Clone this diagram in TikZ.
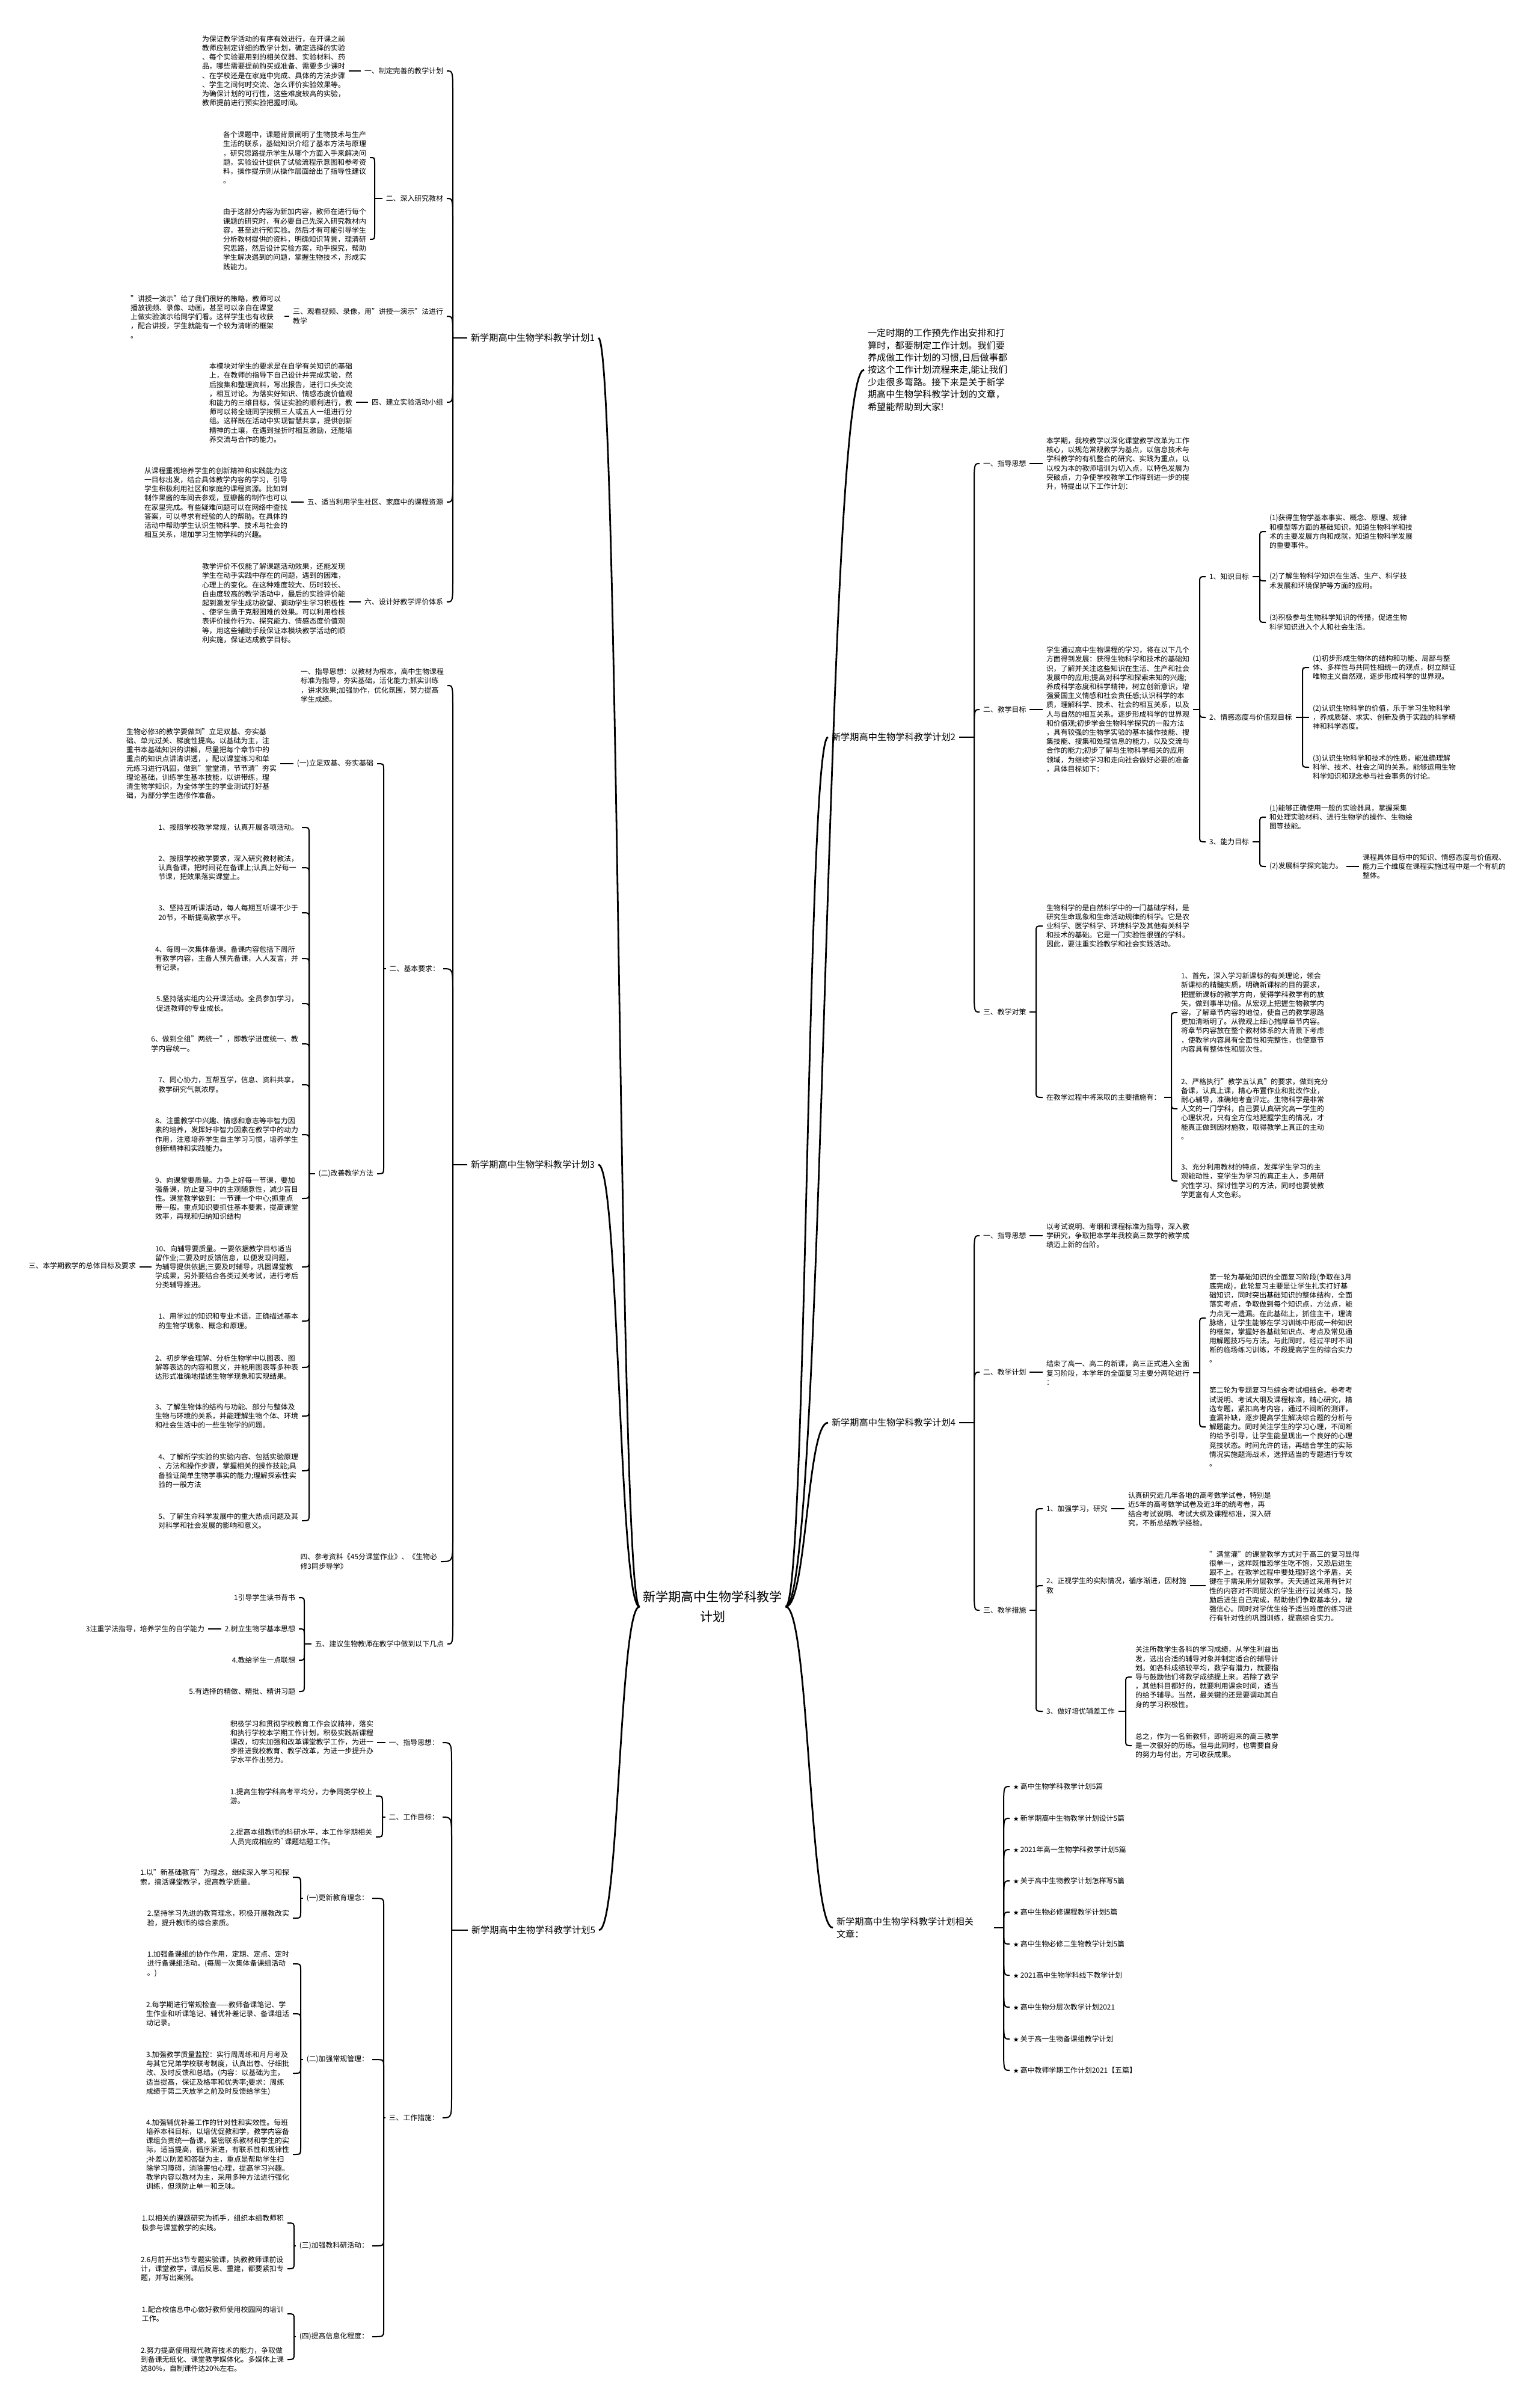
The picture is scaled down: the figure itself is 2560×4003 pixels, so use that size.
\documentclass[tikz,border=0pt]{standalone}
\usepackage{fontspec}
\setmainfont{Noto Sans CJK SC}
\usetikzlibrary{calc}
\tikzset{
 every node/.style={inner sep=3pt, outer sep=0pt},
 ts/.style={font=\fontsize{5.95pt}{7.6pt}\selectfont, align=left},
 tm/.style={font=\fontsize{7.6pt}{10.2pt}\selectfont, align=left},
 troot/.style={font=\fontsize{10.5pt}{16.5pt}\selectfont, align=center},
 conn/.style={line width=1pt},
 mconn/.style={line width=1.4pt},
}
\newcommand\hk[3][5pt]{\draw[conn] let \p1=(#2), \p2=(#3), \n1={min(abs(\y1-\y2),#1)}, \n2={(\y1>\y2)?1:-1} in (\p1) -- (\x1,{\y2+\n2*\n1*1pt}) .. controls (\x1,\y2) .. (\p2);}
\newcommand\mc[2]{\draw[mconn] let \p1=(#1), \p2=(#2) in (\p1) .. controls ({0.5*\x1+0.5*\x2},\y1) and ({0.5*\x1+0.5*\x2},\y2) .. (\p2);}
\newcommand\sconn[2]{\draw[conn] (#1) -- (#2 |- #1);}
\newcommand\stR{{\fontsize{4.6pt}{5pt}\selectfont ★}\ }
\begin{document}
\begin{tikzpicture}[x=0.5pt,y=-0.5pt]
\fill[white] (0,0) rectangle (2560,4003);
\useasboundingbox (0,0) rectangle (2560,4003);

\node[troot] (root) at (1185,2672) {新学期高中生物学科教学\\计划};

% ===== plan 1 =====
\node[tm, anchor=west] (p1) at (777,562) {新学期高中生物学科教学计划1};
\coordinate (p1b) at (753,562);
\node[ts, anchor=east] (a1) at (743,118) {一、制定完善的教学计划};
\node[ts, anchor=east] (l1) at (580,118) {为保证教学活动的有序有效进行，在开课之前\\教师应制定详细的教学计划，确定选择的实验\\、每个实验要用到的相关仪器、实验材料、药\\品，哪些需要提前购买或准备、需要多少课时\\、在学校还是在家庭中完成、具体的方法步骤\\、学生之间何时交流、怎么评价实验效果等。\\为确保计划的可行性，这些难度较高的实验，\\教师提前进行预实验把握时间。};
\node[ts, anchor=east] (a2) at (743,330) {二、深入研究教材};
\coordinate (a2b) at (623,330);
\node[ts, anchor=east] (l2a) at (615,262) {各个课题中，课题背景阐明了生物技术与生产\\生活的联系，基础知识介绍了基本方法与原理\\，研究思路提示学生从哪个方面入手来解决问\\题，实验设计提供了试验流程示意图和参考资\\料，操作提示则从操作层面给出了指导性建议\\。};
\node[ts, anchor=east] (l2b) at (615,398) {由于这部分内容为新加内容，教师在进行每个\\课题的研究时，有必要自己先深入研究教材内\\容，甚至进行预实验。然后才有可能引导学生\\分析教材提供的资料，明确知识背景，理清研\\究思路，然后设计实验方案，动手探究，帮助\\学生解决遇到的问题，掌握生物技术，形成实\\践能力。};
\node[ts, anchor=east] (a3) at (743,526) {三、观看视频、录像，用"讲授一演示"法进行\\教学};
\node[ts, anchor=east] (l3) at (473,527) {"讲授一演示"给了我们很好的策略，教师可以\\播放视频、录像、动画，甚至可以亲自在课堂\\上做实验演示给同学们看。这样学生也有收获\\，配合讲授，学生就能有一个较为清晰的框架\\。};
\node[ts, anchor=east] (a4) at (743,669) {四、建立实验活动小组};
\node[ts, anchor=east] (l4) at (592,670) {本模块对学生的要求是在自学有关知识的基础\\上，在教师的指导下自己设计并完成实验，然\\后搜集和整理资料，写出报告，进行口头交流\\，相互讨论。为落实好知识、情感态度价值观\\和能力的三维目标，保证实验的顺利进行，教\\师可以将全班同学按照三人或五人一组进行分\\组。这样既在活动中实现智慧共享，提供创新\\精神的土壤，在遇到挫折时相互激励，还能培\\养交流与合作的能力。};
\node[ts, anchor=east] (a5) at (743,835) {五、适当利用学生社区、家庭中的课程资源};
\node[ts, anchor=east] (l5) at (484,836) {从课程重视培养学生的创新精神和实践能力这\\一目标出发，结合具体教学内容的学习，引导\\学生积极利用社区和家庭的课程资源。比如到\\制作果酱的车间去参观，豆瓣酱的制作也可以\\在家里完成。有些疑难问题可以在网络中查找\\答案，可以寻求有经验的人的帮助。在具体的\\活动中帮助学生认识生物科学、技术与社会的\\相互关系，增加学习生物学科的兴趣。};
\node[ts, anchor=east] (a6) at (743,1001) {六、设计好教学评价体系};
\node[ts, anchor=east] (l6) at (580,1003) {教学评价不仅能了解课题活动效果，还能发现\\学生在动手实践中存在的问题，遇到的困难，\\心理上的变化。在这种难度较大、历时较长、\\自由度较高的教学活动中，最后的实验评价能\\起到激发学生成功欲望、调动学生学习积极性\\、使学生勇于克服困难的效果。可以利用检核\\表评价操作行为、探究能力、情感态度价值观\\等，用这些辅助手段保证本模块教学活动的顺\\利实施，保证达成教学目标。};

% ===== plan 3 =====
\node[tm, anchor=west] (p3) at (777,1937) {新学期高中生物学科教学计划3};
\coordinate (p3b) at (753,1937);
\node[ts, anchor=east] (b1) at (744,1140) {一、指导思想：以教材为根本，高中生物课程\\标准为指导，夯实基础，活化能力;抓实训练\\，讲求效果;加强协作，优化氛围，努力提高\\学生成绩。};
\node[ts, anchor=east] (b2) at (737,1611) {二、基本要求：};
\coordinate (b2b) at (638,1611);
\node[ts, anchor=east] (c1) at (627,1270) {(一)立足双基、夯实基础};
\node[ts, anchor=east] (c1l) at (466,1270) {生物必修3的教学要做到"立足双基、夯实基\\础、单元过关、梯度性提高。以基础为主，注\\重书本基础知识的讲解，尽量把每个章节中的\\重点的知识点讲清讲透，，配以课堂练习和单\\元练习进行巩固，做到"堂堂清，节节清"夯实\\理论基础，训练学生基本技能，以讲带练，理\\清生物学知识，为全体学生的学业测试打好基\\础，为部分学生选修作准备。};
\node[ts, anchor=east] (c2) at (627,1952) {(二)改善教学方法};
\coordinate (c2b) at (514,1952);
\node[ts, anchor=east] (i1) at (502,1376) {1、按照学校教学常规，认真开展各项活动。};
\node[ts, anchor=east] (i2) at (502,1443) {2、按照学校教学要求，深入研究教材教法，\\认真备课，把时间花在备课上;认真上好每一\\节课，把效果落实课堂上。};
\node[ts, anchor=east] (i3) at (502,1518) {3、坚持互听课活动，每人每期互听课不少于\\20节，不断提高教学水平。};
\node[ts, anchor=east] (i4) at (502,1594) {4、每周一次集体备课。备课内容包括下周所\\有教学内容，主备人预先备课，人人发言，并\\有记录。};
\node[ts, anchor=east] (i5) at (502,1669) {5.坚持落实组内公开课活动。全员参加学习，\\促进教师的专业成长。};
\node[ts, anchor=east] (i6) at (502,1736) {6、做到全组"两统一"，即教学进度统一、教\\学内容统一。};
\node[ts, anchor=east] (i7) at (502,1804) {7、同心协力，互帮互学，信息、资料共享，\\教学研究气氛浓厚。};
\node[ts, anchor=east] (i8) at (502,1887) {8、注重教学中兴趣、情感和意志等非智力因\\素的培养，发挥好非智力因素在教学中的动力\\作用，注意培养学生自主学习习惯，培养学生\\创新精神和实践能力。};
\node[ts, anchor=east] (i9) at (502,1993) {9、向课堂要质量。力争上好每一节课，要加\\强备课，防止复习中的主观随意性，减少盲目\\性。课堂教学做到：一节课一个中心;抓重点\\带一般。重点知识要抓住基本要素，提高课堂\\效率，再现和归纳知识结构};
\node[ts, anchor=east] (i10) at (502,2107) {10、向辅导要质量。一要依据教学目标适当\\留作业;二要及时反馈信息，以便发现问题，\\为辅导提供依据;三要及时辅导，巩固课堂教\\学成果，另外要结合各类过关考试，进行考后\\分类辅导推进。};
\node[ts, anchor=east] (t3) at (232,2105) {三、本学期教学的总体目标及要求};
\node[ts, anchor=east] (i11) at (502,2197) {1、用学过的知识和专业术语，正确描述基本\\的生物学现象、概念和原理。};
\node[ts, anchor=east] (i12) at (502,2274) {2、初步学会理解、分析生物学中以图表、图\\解等表达的内容和意义，并能用图表等多种表\\达形式准确地描述生物学现象和实现结果。};
\node[ts, anchor=east] (i13) at (502,2355) {3、了解生物体的结构与功能、部分与整体及\\生物与环境的关系，并能理解生物个体、环境\\和社会生活中的一些生物学的问题。};
\node[ts, anchor=east] (i14) at (502,2446) {4、了解所学实验的实验内容、包括实验原理\\、方法和操作步骤，掌握相关的操作技能;具\\备验证简单生物学事实的能力;理解探索性实\\验的一般方法};
\node[ts, anchor=east] (i15) at (502,2529) {5、了解生命科学发展中的重大热点问题及其\\对科学和社会发展的影响和意义。};
\node[ts, anchor=east] (b4) at (733,2597) {四、参考资料《45分课堂作业》、《生物必\\修3同步导学》};
\node[ts, anchor=east] (b5) at (744,2734) {五、建议生物教师在教学中做到以下几点};
\coordinate (b5b) at (506,2734);
\node[ts, anchor=east] (j1) at (497,2657) {1引导学生读书背书};
\node[ts, anchor=east] (j2) at (497,2709) {2.树立生物学基本思想};
\node[ts, anchor=east] (j3) at (346,2709) {3注重学法指导，培养学生的自学能力};
\node[ts, anchor=east] (j4) at (497,2761) {4.教给学生一点联想};
\node[ts, anchor=east] (j5) at (497,2813) {5.有选择的精做、精批、精讲习题};

% ===== plan 5 =====
\node[tm, anchor=west] (p5) at (778,3210) {新学期高中生物学科教学计划5};
\coordinate (p5b) at (751,3210);
\node[ts, anchor=east] (d1) at (736,2898) {一、指导思想：};
\node[ts, anchor=east] (d1l) at (627,2897) {积极学习和贯彻学校教育工作会议精神，落实\\和执行学校本学期工作计划，积极实践新课程\\课改，切实加强和改革课堂教学工作，为进一\\步推进我校教育、教学改革，为进一步提升办\\学水平作出努力。};
\node[ts, anchor=east] (d2) at (736,3022) {二、工作目标：};
\coordinate (d2b) at (636,3022);
\node[ts, anchor=east] (e1) at (625,2987) {1.提高生物学科高考平均分，力争同类学校上\\游。};
\node[ts, anchor=east] (e2) at (625,3055) {2.提高本组教师的科研水平，本工作学期相关\\人员完成相应的\textasciigrave 课题结题工作。};
\node[ts, anchor=east] (d3) at (736,3522) {三、工作措施：};
\coordinate (d3b) at (638,3522);
\node[ts, anchor=east] (f1) at (619,3157) {(一)更新教育理念：};
\coordinate (f1b) at (500,3157);
\node[ts, anchor=east] (g1) at (487,3122) {1.以"新基础教育"为理念，继续深入学习和探\\索，搞活课堂教学，提高教学质量。};
\node[ts, anchor=east] (g2) at (487,3190) {2.坚持学习先进的教育理念，积极开展教改实\\验，提升教师的综合素质。};
\node[ts, anchor=east] (f2) at (619,3425) {(二)加强常规管理：};
\coordinate (f2b) at (500,3425);
\node[ts, anchor=east] (g3) at (487,3266) {1.加强备课组的协作作用，定期、定点、定时\\进行备课组活动。(每周一次集体备课组活动\\。)};
\node[ts, anchor=east] (g4) at (487,3349) {2.每学期进行常规检查——教师备课笔记、学\\生作业和听课笔记、辅优补差记录、备课组活\\动记录。};
\node[ts, anchor=east] (g5) at (487,3448) {3.加强教学质量监控：实行周周练和月月考及\\与其它兄弟学校联考制度，认真出卷、仔细批\\改、及时反馈和总结。(内容：以基础为主，\\适当提高，保证及格率和优秀率;要求：周练\\成绩于第二天放学之前及时反馈给学生)};
\node[ts, anchor=east] (g6) at (487,3583) {4.加强辅优补差工作的针对性和实效性。每班\\培养本科目标，以培优促教和学，教学内容备\\课组负责统一备课，紧密联系教材和学生的实\\际，适当提高，循序渐进，有联系性和规律性\\;补差以防差和答疑为主，重点是帮助学生扫\\除学习障碍，消除害怕心理，提高学习兴趣。\\教学内容以教材为主，采用多种方法进行强化\\训练，但须防止单一和乏味。};
\node[ts, anchor=east] (f3) at (619,3735) {(三)加强教科研活动：};
\coordinate (f3b) at (489,3735);
\node[ts, anchor=east] (g7) at (478,3697) {1.以相关的课题研究为抓手，组织本组教师积\\极参与课堂教学的实践。};
\node[ts, anchor=east] (g8) at (478,3773) {2.6月前开出3节专题实验课，执教教师课前设\\计，课堂教学，课后反思、重建，都要紧扣专\\题，并写出案例。};
\node[ts, anchor=east] (f4) at (619,3886) {(四)提高信息化程度：};
\coordinate (f4b) at (489,3886);
\node[ts, anchor=east] (g9) at (478,3848) {1.配合校信息中心做好教师使用校园网的培训\\工作。};
\node[ts, anchor=east] (g10) at (478,3924) {2.努力提高使用现代教育技术的能力，争取做\\到备课无纸化、课堂教学媒体化。多媒体上课\\达80\%，自制课件达20\%左右。};

% ===== intro =====
\node[tm, anchor=west] (intro) at (1437,615) {一定时期的工作预先作出安排和打\\算时，都要制定工作计划。我们要\\养成做工作计划的习惯,日后做事都\\按这个工作计划流程来走,能让我们\\少走很多弯路。接下来是关于新学\\期高中生物学科教学计划的文章，\\希望能帮助到大家!};

% ===== plan 2 =====
\node[tm, anchor=west] (p2) at (1377,1226) {新学期高中生物学科教学计划2};
\coordinate (p2b) at (1620,1226);
\node[ts, anchor=west] (r1) at (1629,771) {一、指导思想};
\node[ts, anchor=west] (r1l) at (1734,771) {本学期，我校教学以深化课堂教学改革为工作\\核心，以规范常规教学为基点，以信息技术与\\学科教学的有机整合的研究、实践为重点，以\\以校为本的教师培训为切入点，以特色发展为\\突破点，力争使学校教学工作得到进一步的提\\升，特提出以下工作计划：};
\node[ts, anchor=west] (r2) at (1629,1180) {二、教学目标};
\node[ts, anchor=west] (r2l) at (1734,1180) {学生通过高中生物课程的学习，将在以下几个\\方面得到发展：获得生物科学和技术的基础知\\识，了解并关注这些知识在生活、生产和社会\\发展中的应用;提高对科学和探索未知的兴趣;\\养成科学态度和科学精神，树立创新意识，增\\强爱国主义情感和社会责任感;认识科学的本\\质，理解科学、技术、社会的相互关系，以及\\人与自然的相互关系。逐步形成科学的世界观\\和价值观;初步学会生物科学探究的一般方法\\，具有较强的生物学实验的基本操作技能、搜\\集技能、搜集和处理信息的能力，以及交流与\\合作的能力;初步了解与生物科学相关的应用\\领域，为继续学习和走向社会做好必要的准备\\，具体目标如下：};
\coordinate (r2b) at (1995,1180);
\node[ts, anchor=west] (s1) at (2005,959) {1、知识目标};
\coordinate (s1b) at (2095,959);
\node[ts, anchor=west] (u1) at (2105,884) {(1)获得生物学基本事实、概念、原理、规律\\和模型等方面的基础知识，知道生物科学和技\\术的主要发展方向和成就，知道生物科学发展\\的重要事件。};
\node[ts, anchor=west] (u2) at (2105,966) {(2)了解生物科学知识在生活、生产、科学技\\术发展和环境保护等方面的应用。};
\node[ts, anchor=west] (u3) at (2105,1035) {(3)积极参与生物科学知识的传播，促进生物\\科学知识进入个人和社会生活。};
\node[ts, anchor=west] (s2) at (2005,1193) {2、情感态度与价值观目标};
\coordinate (s2b) at (2166,1193);
\node[ts, anchor=west] (u4) at (2177,1110) {(1)初步形成生物体的结构和功能、局部与整\\体、多样性与共同性相统一的观点，树立辩证\\唯物主义自然观，逐步形成科学的世界观。};
\node[ts, anchor=west] (u5) at (2177,1193) {(2)认识生物科学的价值，乐于学习生物科学\\，养成质疑、求实、创新及勇于实践的科学精\\神和科学态度。};
\node[ts, anchor=west] (u6) at (2177,1276) {(3)认识生物科学和技术的性质，能准确理解\\科学、技术、社会之间的关系。能够运用生物\\科学知识和观念参与社会事务的讨论。};
\node[ts, anchor=west] (s3) at (2005,1400) {3、能力目标};
\coordinate (s3b) at (2095,1400);
\node[ts, anchor=west] (u7) at (2105,1359) {(1)能够正确使用一般的实验器具，掌握采集\\和处理实验材料、进行生物学的操作、生物绘\\图等技能。};
\node[ts, anchor=west] (u8) at (2105,1441) {(2)发展科学探究能力。};
\node[ts, anchor=west] (u9) at (2260,1441) {课程具体目标中的知识、情感态度与价值观、\\能力三个维度在课程实施过程中是一个有机的\\整体。};
\node[ts, anchor=west] (r3) at (1629,1683) {三、教学对策};
\coordinate (r3b) at (1723,1683);
\node[ts, anchor=west] (v1) at (1734,1540) {生物科学的是自然科学中的一门基础学科，是\\研究生命现象和生命活动规律的科学。它是农\\业科学、医学科学、环境科学及其他有关科学\\和技术的基础。它是一门实验性很强的学科。\\因此，要注重实验教学和社会实践活动。};
\node[ts, anchor=west] (v2) at (1734,1825) {在教学过程中将采取的主要措施有：};
\coordinate (v2b) at (1948,1825);
\node[ts, anchor=west] (w1) at (1958,1684) {1、首先，深入学习新课标的有关理论，领会\\新课标的精髓实质，明确新课标的目的要求，\\把握新课标的教学方向，使得学科教学有的放\\矢，做到事半功倍。从宏观上把握生物教学内\\容，了解章节内容的地位，使自己的教学思路\\更加清晰明了。从微观上细心揣摩章节内容。\\将章节内容放在整个教材体系的大背景下考虑\\，使教学内容具有全面性和完整性，也使章节\\内容具有整体性和层次性。};
\node[ts, anchor=west] (w2) at (1958,1844) {2、严格执行"教学五认真"的要求，做到充分\\备课，认真上课，精心布置作业和批改作业，\\耐心辅导，准确地考查评定。生物科学是非常\\人文的一门学科，自己要认真研究高一学生的\\心理状况，只有全方位地把握学生的情况，才\\能真正做到因材施教，取得教学上真正的主动\\。};
\node[ts, anchor=west] (w3) at (1958,1964) {3、充分利用教材的特点，发挥学生学习的主\\观能动性，变学生为学习的真正主人，多用研\\究性学习、探讨性学习的方法，同时也要使教\\学更富有人文色彩。};

% ===== plan 4 =====
\node[tm, anchor=west] (p4) at (1377,2366) {新学期高中生物学科教学计划4};
\coordinate (p4b) at (1620,2366);
\node[ts, anchor=west] (x1) at (1629,2055) {一、指导思想};
\node[ts, anchor=west] (x1l) at (1734,2055) {以考试说明、考纲和课程标准为指导，深入教\\学研究，争取把本学年我校高三数学的教学成\\绩迈上新的台阶。};
\node[ts, anchor=west] (x2) at (1629,2282) {二、教学计划};
\node[ts, anchor=west] (x2l) at (1734,2283) {结束了高一、高二的新课，高三正式进入全面\\复习阶段，本学年的全面复习主要分两轮进行\\：};
\coordinate (x2b) at (1995,2283);
\node[ts, anchor=west] (y1) at (2005,2192) {第一轮为基础知识的全面复习阶段(争取在3月\\底完成)，此轮复习主要是让学生扎实打好基\\础知识，同时突出基础知识的整体结构，全面\\落实考点，争取做到每个知识点，方法点，能\\力点无一遗漏。在此基础上，抓住主干，理清\\脉络，让学生能够在学习训练中形成一种知识\\的框架，掌握好各基础知识点、考点及常见通\\用解题技巧与方法。与此同时，经过平时不间\\断的临场练习训练，不段提高学生的综合实力\\。};
\node[ts, anchor=west] (y2) at (2005,2373) {第二轮为专题复习与综合考试相结合。参考考\\试说明、考试大纲及课程标准，精心研究，精\\选专题，紧扣高考内容，通过不间断的测评，\\查漏补缺，逐步提高学生解决综合题的分析与\\解题能力。同时关注学生的学习心理，不间断\\的给予引导，让学生能呈现出一个良好的心理\\竞技状态。时间允许的话，再结合学生的实际\\情况实施题海战术，选择适当的专题进行专攻\\。};
\node[ts, anchor=west] (x3) at (1629,2678) {三、教学措施};
\coordinate (x3b) at (1723,2678);
\node[ts, anchor=west] (z1) at (1734,2509) {1、加强学习，研究};
\node[ts, anchor=west] (z1l) at (1870,2510) {认真研究近几年各地的高考数学试卷，特别是\\近5年的高考数学试卷及近3年的统考卷，再\\结合考试说明、考试大纲及课程标准，深入研\\究，不断总结教学经验。};
\node[ts, anchor=west] (z2) at (1734,2637) {2、正视学生的实际情况，循序渐进，因材施\\教};
\node[ts, anchor=west] (z2l) at (2005,2638) {"满堂灌"的课堂教学方式对于高三的复习显得\\很单一，这样既惟恐学生吃不饱，又恐后进生\\跟不上。在教学过程中要处理好这个矛盾，关\\键在于需采用分层教学。天天通过采用有针对\\性的内容对不同层次的学生进行过关练习，鼓\\励后进生自己完成，帮助他们争取基本分，增\\强信心。同时对学优生给予适当难度的练习进\\行有针对性的巩固训练，提高综合实力。};
\node[ts, anchor=west] (z3) at (1734,2846) {3、做好培优辅差工作};
\coordinate (z3b) at (1872,2846);
\node[ts, anchor=west] (za) at (1882,2789) {关注所教学生各科的学习成绩，从学生利益出\\发，选出合适的辅导对象并制定适合的辅导计\\划。如各科成绩较平均，数学有潜力，就要指\\导与鼓励他们将数学成绩提上来。若除了数学\\，其他科目都好的，就要利用课余时间，适当\\的给予辅导。当然，最关键的还是要调动其自\\身的学习积极性。};
\node[ts, anchor=west] (zb) at (1882,2903) {总之，作为一名新教师，即将迎来的高三教学\\是一次很好的历练。但与此同时，也需要自身\\的努力与付出，方可收获成果。};

% ===== related =====
\node[tm, anchor=west, text width=128pt] (k) at (1385,3206) {新学期高中生物学科教学计划相关\\文章：};
\coordinate (kb) at (1669,3206);
\node[ts, anchor=west] (m1) at (1679,2971) {\stR 高中生物学科教学计划5篇};
\node[ts, anchor=west] (m2) at (1679,3024) {\stR 新学期高中生物教学计划设计5篇};
\node[ts, anchor=west] (m3) at (1679,3076) {\stR 2021年高一生物学科教学计划5篇};
\node[ts, anchor=west] (m4) at (1679,3128) {\stR 关于高中生物教学计划怎样写5篇};
\node[ts, anchor=west] (m5) at (1679,3180) {\stR 高中生物必修课程教学计划5篇};
\node[ts, anchor=west] (m6) at (1679,3233) {\stR 高中生物必修二生物教学计划5篇};
\node[ts, anchor=west] (m7) at (1679,3285) {\stR 2021高中生物学科线下教学计划};
\node[ts, anchor=west] (m8) at (1679,3338) {\stR 高中生物分层次教学计划2021};
\node[ts, anchor=west] (m9) at (1679,3391) {\stR 关于高一生物备课组教学计划};
\node[ts, anchor=west] (m10) at (1679,3443) {\stR 高中教师学期工作计划2021【五篇】};

% ===== connectors =====
\mc{root.west}{p1.east}
\mc{root.west}{p3.east}
\mc{root.west}{p5.east}
\mc{root.east}{intro.west}
\mc{root.east}{p2.west}
\mc{root.east}{p4.west}
\mc{root.east}{k.west}

% plan1
\draw[conn] (p1.west) -- (p1b);
\foreach \c in {a1,a2,a3,a4,a5,a6} {\hk[20pt]{p1b}{\c.east}}
\sconn{a1.west}{l1.east}
\draw[conn] (a2.west) -- (a2b);
\hk{a2b}{l2a.east} \hk{a2b}{l2b.east}
\sconn{a3.west}{l3.east}
\sconn{a4.west}{l4.east}
\sconn{a5.west}{l5.east}
\sconn{a6.west}{l6.east}

% plan3
\draw[conn] (p3.west) -- (p3b);
\foreach \c in {b1,b2,b4,b5} {\hk[20pt]{p3b}{\c.east}}
\draw[conn] (b2.west) -- (b2b);
\hk{b2b}{c1.east} \hk{b2b}{c2.east}
\sconn{c1.west}{c1l.east}
\draw[conn] (c2.west) -- (c2b);
\foreach \c in {i1,i2,i3,i4,i5,i6,i7,i8,i9,i10,i11,i12,i13,i14,i15} {\hk{c2b}{\c.east}}
\sconn{i10.west}{t3.east}
\draw[conn] (b5.west) -- (b5b);
\foreach \c in {j1,j2,j4,j5} {\hk{b5b}{\c.east}}
\sconn{j2.west}{j3.east}

% plan5
\draw[conn] (p5.west) -- (p5b);
\foreach \c in {d1,d2,d3} {\hk[20pt]{p5b}{\c.east}}
\sconn{d1.west}{d1l.east}
\draw[conn] (d2.west) -- (d2b);
\hk{d2b}{e1.east} \hk{d2b}{e2.east}
\draw[conn] (d3.west) -- (d3b);
\foreach \c in {f1,f2,f3,f4} {\hk{d3b}{\c.east}}
\draw[conn] (f1.west) -- (f1b);
\hk{f1b}{g1.east} \hk{f1b}{g2.east}
\draw[conn] (f2.west) -- (f2b);
\foreach \c in {g3,g4,g5,g6} {\hk{f2b}{\c.east}}
\draw[conn] (f3.west) -- (f3b);
\hk{f3b}{g7.east} \hk{f3b}{g8.east}
\draw[conn] (f4.west) -- (f4b);
\hk{f4b}{g9.east} \hk{f4b}{g10.east}

% plan2
\draw[conn] (p2.east) -- (p2b);
\foreach \c in {r1,r2,r3} {\hk[20pt]{p2b}{\c.west}}
\sconn{r1.east}{r1l.west}
\sconn{r2.east}{r2l.west}
\draw[conn] (r2l.east |- r2b) -- (r2b);
\foreach \c in {s1,s2,s3} {\hk{r2b}{\c.west}}
\draw[conn] (s1.east) -- (s1b);
\foreach \c in {u1,u2,u3} {\hk{s1b}{\c.west}}
\draw[conn] (s2.east) -- (s2b);
\foreach \c in {u4,u5,u6} {\hk{s2b}{\c.west}}
\draw[conn] (s3.east) -- (s3b);
\foreach \c in {u7,u8} {\hk{s3b}{\c.west}}
\sconn{u8.east}{u9.west}
\draw[conn] (r3.east) -- (r3b);
\hk{r3b}{v1.west} \hk{r3b}{v2.west}
\draw[conn] (v2.east) -- (v2b);
\foreach \c in {w1,w2,w3} {\hk{v2b}{\c.west}}

% plan4
\draw[conn] (p4.east) -- (p4b);
\foreach \c in {x1,x2,x3} {\hk[20pt]{p4b}{\c.west}}
\sconn{x1.east}{x1l.west}
\sconn{x2.east}{x2l.west}
\draw[conn] (x2l.east |- x2b) -- (x2b);
\hk{x2b}{y1.west} \hk{x2b}{y2.west}
\draw[conn] (x3.east) -- (x3b);
\foreach \c in {z1,z2,z3} {\hk{x3b}{\c.west}}
\sconn{z1.east}{z1l.west}
\sconn{z2.east}{z2l.west}
\draw[conn] (z3.east) -- (z3b);
\hk{z3b}{za.west} \hk{z3b}{zb.west}

% related
\draw[conn] (k.east) -- (kb);
\foreach \c in {m1,m2,m3,m4,m5,m6,m7,m8,m9,m10} {\hk[20pt]{kb}{\c.west}}
\end{tikzpicture}
\end{document}
